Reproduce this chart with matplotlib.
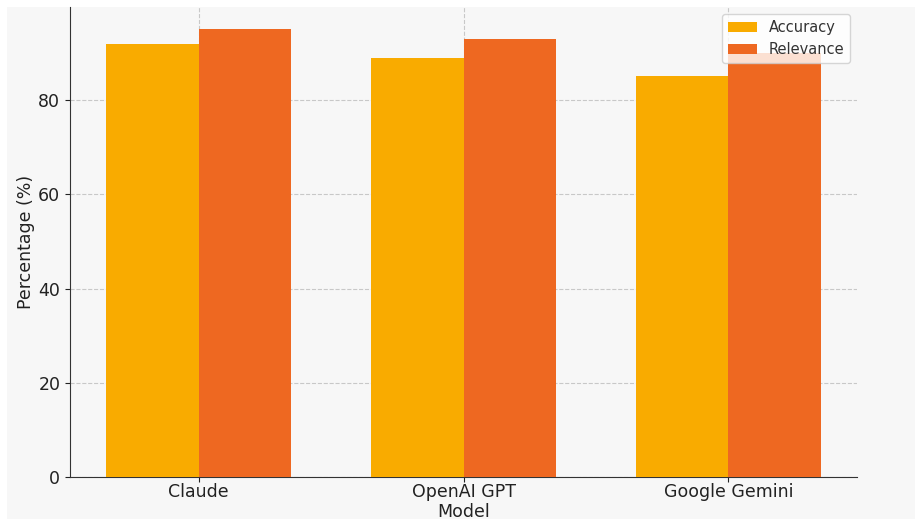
import numpy as np
import matplotlib.pyplot as plt
from matplotlib.patches import Rectangle

models = ['Claude', 'OpenAI GPT', 'Google Gemini']
accuracy = [92, 89, 85]
relevance = [95, 93, 90]

acc_color = '#F9AB00'
rel_color = '#EE6821'
bg = '#F7F7F7'

fig = plt.figure(figsize=(9.22, 5.22), dpi=100, facecolor='white')
# grey panel with a thin white margin round it
fig.patches.append(Rectangle((0.008, 0.006), 0.984, 0.981, transform=fig.transFigure,
                             facecolor=bg, edgecolor='none', zorder=-10))
ax = fig.add_axes([0.076, 0.0862, 0.8535, 0.9004])
ax.set_facecolor(bg)

x = np.arange(len(models))
width = 0.35
ax.bar(x - width / 2, accuracy, width, label='Accuracy', color=acc_color, zorder=3)
ax.bar(x + width / 2, relevance, width, label='Relevance', color=rel_color, zorder=3)

ax.set_xticks(x)
ax.set_xticklabels(models)
ax.set_yticks([0, 20, 40, 60, 80])
ax.tick_params(labelsize=12.5, colors='#222222')
ax.tick_params(axis='x', pad=0.5)
ax.set_xlabel('Model', fontsize=12.5, labelpad=2, color='#222222')
ax.set_ylabel('Percentage (%)', fontsize=12.5, labelpad=2, color='#222222')

ax.grid(True, linestyle='--', color='#c8c8c8', linewidth=0.8, zorder=0)
ax.spines['top'].set_visible(False)
ax.spines['right'].set_visible(False)
ax.spines['left'].set_color('#333333')
ax.spines['bottom'].set_color('#333333')

leg = ax.legend(loc='upper right', fontsize=10.5, framealpha=0.8, edgecolor='#cccccc',
                bbox_to_anchor=(0.991, 0.985), borderaxespad=0)
for t in leg.get_texts():
    t.set_color('#333333')

fig.savefig('out.png', dpi=100, facecolor=fig.get_facecolor())
